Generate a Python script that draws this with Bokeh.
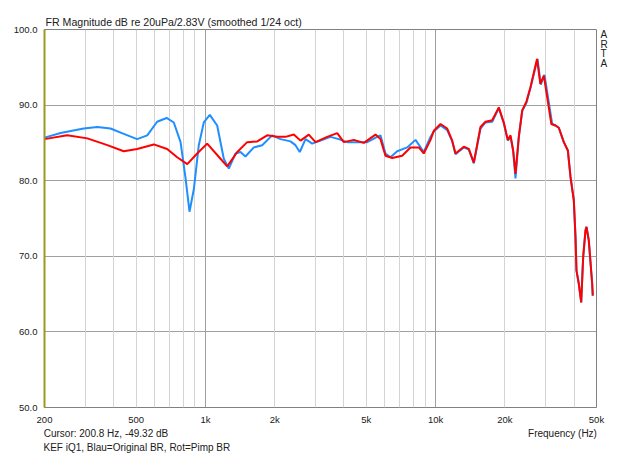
from bokeh.plotting import figure
from bokeh.models import (Range1d, FixedTicker, Grid, CustomJSTickFormatter, LinearAxis,
                          LinearScale, NumeralTickFormatter, Title)
from bokeh.embed import file_html
from bokeh.resources import INLINE

# ---- data ----
blue_freq = [200, 235, 296, 339, 387, 442, 505, 559, 617, 678, 729, 780, 820, 853, 891, 936,
             984, 1045, 1125, 1202, 1264, 1351, 1420, 1493, 1622, 1765, 1950, 2120, 2342, 2462,
             2570, 2722, 2910, 3162, 3496, 3797, 4130, 4564, 5046, 5577, 5762, 6057, 6368, 6810,
             7528, 8178, 8886, 9504, 9822, 10504, 11230, 11808, 12202, 13260, 13940, 14656,
             15668, 16470, 17618, 18816, 19780, 20584, 21160, 21726, 22234, 22980, 23780, 24824,
             25840, 27710, 28640, 29720, 32100, 33180, 34290, 36060, 37540, 38550, 39850, 40530,
             40930, 41880, 42900, 43760, 44780, 45240, 46290, 47880, 48170]
blue_db = [85.7, 86.3, 86.9, 87.1, 86.9, 86.2, 85.5, 86.0, 87.8, 88.3, 87.7, 85.1, 80.3, 75.9,
           78.9, 84.7, 87.7, 88.7, 87.3, 82.9, 81.6, 83.6, 83.8, 83.2, 84.4, 84.7, 86.0, 85.5,
           85.2, 84.7, 83.8, 85.5, 84.9, 85.3, 85.8, 85.5, 85.1, 85.1, 85.1, 85.8, 86.0, 83.6,
           83.1, 83.9, 84.4, 85.4, 83.8, 85.8, 86.5, 87.3, 86.7, 85.2, 83.5, 84.4, 84.1, 82.3,
           86.9, 87.7, 87.8, 89.6, 87.6, 85.3, 85.8, 83.9, 80.3, 85.7, 89.2, 90.3, 92.3, 96.1,
           92.7, 94.0, 87.5, 87.3, 87.0, 85.1, 84.0, 80.5, 77.4, 72.5, 68.1, 66.4, 63.9, 69.9,
           73.4, 73.9, 72.1, 66.4, 64.8]

red_freq = [200, 251, 307, 375, 442, 505, 597, 682, 754, 834, 921, 1018, 1163, 1244, 1375, 1519,
            1679, 1855, 2050, 2228, 2421, 2589, 2813, 3008, 3381, 3737, 3993, 4413, 4877, 5483,
            5762, 6057, 6478, 7160, 7778, 8454, 8886, 9504, 9822, 10504, 11230, 11808, 12202,
            13260, 13940, 14656, 15668, 16470, 17618, 18816, 19780, 20584, 21160, 21726, 22234,
            22980, 23780, 24824, 25840, 27580, 28500, 29520, 31830, 33180, 34290, 36060, 37540,
            38550, 39850, 40530, 40930, 41880, 42900, 43760, 44780, 45240, 46290, 47880, 48170]
red_db = [85.5, 86.0, 85.6, 84.7, 83.9, 84.2, 84.8, 84.2, 83.1, 82.2, 83.6, 84.9, 82.9, 81.9,
          83.8, 85.1, 85.2, 86.0, 85.8, 85.8, 86.1, 85.3, 86.1, 85.1, 85.8, 86.3, 85.1, 85.4,
          85.0, 86.1, 85.5, 83.3, 83.0, 83.3, 84.4, 84.4, 83.6, 85.4, 86.6, 87.5, 86.9, 85.3,
          83.6, 84.5, 84.2, 82.4, 87.1, 87.8, 88.0, 89.7, 87.7, 85.4, 86.0, 84.0, 80.9, 85.8,
          89.3, 90.5, 92.4, 96.1, 92.8, 93.9, 87.5, 87.3, 87.0, 85.1, 84.0, 80.5, 77.4, 72.5,
          68.1, 66.4, 63.9, 69.9, 73.4, 73.9, 72.1, 66.4, 64.8]

x_major_ticks = [200, 500, 1000, 2000, 5000, 10000, 20000, 50000]
x_light_grid = [300, 400, 500, 600, 700, 800, 900, 2000, 3000, 4000, 5000, 6000, 7000, 8000,
                9000, 20000, 30000, 40000]
x_dark_grid = [1000, 10000]
y_ticks = [50, 60, 70, 80, 90, 100]

title_text = "FR Magnitude dB re 20uPa/2.83V (smoothed 1/24 oct)"
cursor_text = "Cursor: 200.8 Hz, -49.32 dB"
xlabel_text = "Frequency (Hz)"
legend_text = "KEF iQ1, Blau=Original BR, Rot=Pimp BR"
brand_letters = ["A", "R", "T", "A"]

FONT = "Liberation Sans"
FS = "10px"
TICK_FS = "9.5px"
TXT = "#202020"

p = figure(width=640, height=455, x_axis_type="log",
           x_range=Range1d(200, 50000), y_range=Range1d(50, 100),
           output_backend="svg", toolbar_location=None,
           min_border_left=44, min_border_right=44, min_border_top=29, min_border_bottom=48)
p.background_fill_color = "white"
p.border_fill_color = "white"
p.outline_line_color = "#808080"
p.outline_line_width = 1

# grids
p.xgrid.visible = False
p.ygrid.ticker = FixedTicker(ticks=y_ticks)
p.ygrid.grid_line_color = "#a0a0a0"
p.add_layout(Grid(dimension=0, ticker=FixedTicker(ticks=x_light_grid), grid_line_color="#d4d4d4"))
p.add_layout(Grid(dimension=0, ticker=FixedTicker(ticks=x_dark_grid), grid_line_color="#a0a0a0"))

# main axes
p.xaxis.ticker = FixedTicker(ticks=x_major_ticks)
p.xaxis.formatter = CustomJSTickFormatter(
    code="var t = Math.round(tick); return t >= 1000 ? (t/1000).toFixed(0) + 'k' : t.toFixed(0);")
p.yaxis.ticker = FixedTicker(ticks=y_ticks)
p.yaxis.formatter = NumeralTickFormatter(format="0.0")


def style(ax, fs=FS):
    ax.major_tick_line_color = None
    ax.minor_tick_line_color = None
    ax.major_label_text_font = FONT
    ax.major_label_text_font_size = fs
    ax.major_label_text_color = TXT


style(p.xaxis[0], TICK_FS)
style(p.yaxis[0], TICK_FS)
p.xaxis.axis_line_color = None
p.xaxis.major_label_standoff = 0
p.yaxis.axis_line_color = "#9a9a20"
p.yaxis.axis_line_width = 2
p.yaxis.major_label_standoff = 1

# curves
p.line(blue_freq, blue_db, line_color="#1e8fff", line_width=2)
p.line(red_freq, red_db, line_color="#ff0000", line_width=2)

# text row below the tick labels (cursor readout + axis name), via a helper axis in pixels
p.extra_x_ranges = {"px": Range1d(0, 552)}
p.extra_x_scales = {"px": LinearScale()}
row_pos = [61.5, 518.0]
row_axis = LinearAxis(x_range_name="px", ticker=FixedTicker(ticks=row_pos),
                      major_label_overrides={row_pos[0]: cursor_text, row_pos[1]: xlabel_text})
style(row_axis)
row_axis.axis_line_color = None
row_axis.major_label_standoff = -6
p.add_layout(row_axis, "below")

# legend line
p.add_layout(Title(text=legend_text, align="left", offset=-1, standoff=-3,
                   text_font=FONT, text_font_size=FS, text_font_style="normal",
                   text_color=TXT), "below")

# title
p.add_layout(Title(text=title_text, align="left", offset=1, standoff=3,
                   text_font=FONT, text_font_size="10.6px", text_font_style="normal",
                   text_color=TXT), "above")

# vertical brand letters at the right
brand_pos = [99.3, 98.06, 96.76, 95.46]
brand_axis = LinearAxis(ticker=FixedTicker(ticks=brand_pos),
                        major_label_overrides={v: t for v, t in zip(brand_pos, brand_letters)})
style(brand_axis)
brand_axis.axis_line_color = None
brand_axis.major_label_standoff = -2
p.add_layout(brand_axis, "right")

open("out.html", "w").write(file_html(p, INLINE))
